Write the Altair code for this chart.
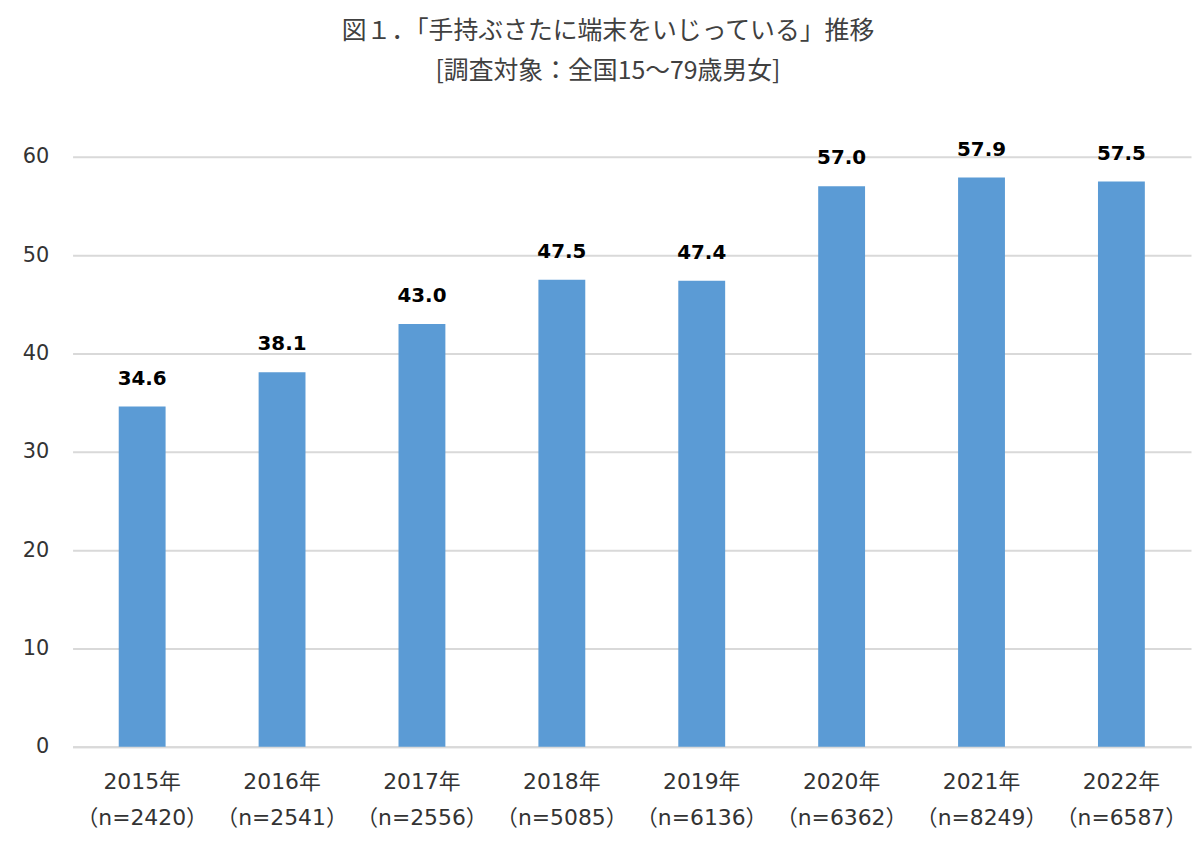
import altair as alt
import pandas as pd

years = ["2015年", "2016年", "2017年", "2018年", "2019年", "2020年", "2021年", "2022年"]
samples = ["（n=2420）", "（n=2541）", "（n=2556）", "（n=5085）", "（n=6136）", "（n=6362）", "（n=8249）", "（n=6587）"]
values = [34.6, 38.1, 43.0, 47.5, 47.4, 57.0, 57.9, 57.5]

df = pd.DataFrame({
    "cat": [f"{y}|{s}" for y, s in zip(years, samples)],
    "value": values,
})
df["label"] = df["value"].map(lambda v: f"{v:.1f}")

FONT = "DejaVu Sans, Noto Sans CJK JP"

base = alt.Chart(df).encode(
    x=alt.X("cat:N", sort=None, title=None,
            scale=alt.Scale(paddingInner=0.665, paddingOuter=0.33),
            axis=alt.Axis(labelExpr="split(datum.label, '|')", labelAngle=0,
                          labelFontSize=22, labelColor="#333333", labelFont=FONT,
                          labelLineHeight=36, labelPadding=25, ticks=False,
                          domain=True, domainColor="#d9d9d9", domainWidth=2)),
    y=alt.Y("value:Q", title=None,
            scale=alt.Scale(domain=[0, 60]),
            axis=alt.Axis(values=[0, 10, 20, 30, 40, 50, 60], labelFontSize=21,
                          labelColor="#333333", labelFont=FONT, labelPadding=24,
                          ticks=False, domain=False, gridColor="#d9d9d9", gridWidth=2)),
)

bars = base.mark_bar(color="#5b9bd5")
labels = base.mark_text(dy=-28, fontSize=20, fontWeight="bold", font=FONT, color="#000000").encode(
    text="label:N")

chart = (bars + labels).properties(
    width=1126, height=594,
    autosize=alt.AutoSizeParams(type="none"),
    padding={"left": 65, "top": 147, "right": 1, "bottom": 92},
    title=alt.TitleParams(
        text=["図１．「手持ぶさたに端末をいじっている」推移", "[調査対象：全国15～79歳男女]"],
        fontSize=25, font="Noto Sans CJK JP", fontWeight="normal", color="#404040",
        anchor="middle", dx=-24, offset=56, lineHeight=40,
    ),
).configure_view(stroke=None)

chart.save("out.html", embed_options={"renderer": "svg", "actions": False})
